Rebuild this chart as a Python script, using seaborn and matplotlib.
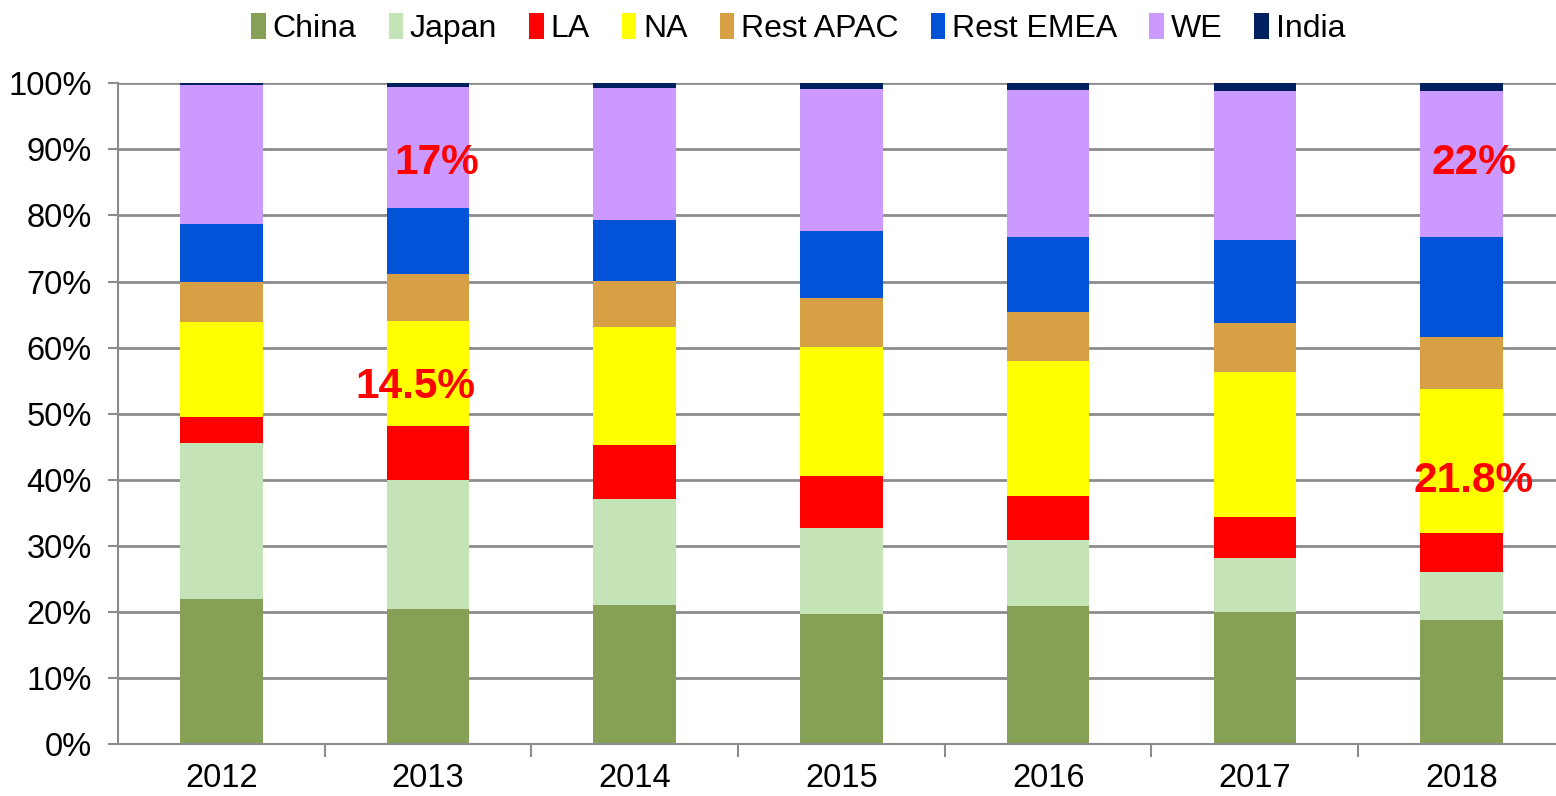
import numpy as np
import pandas as pd
import matplotlib
matplotlib.use("Agg")
import matplotlib.pyplot as plt
import seaborn as sns
from matplotlib.patches import Patch
from matplotlib.ticker import MultipleLocator, FixedLocator

years = ["2012", "2013", "2014", "2015", "2016", "2017", "2018"]
regions = ["China", "Japan", "LA", "NA", "Rest APAC", "Rest EMEA", "WE", "India"]
china     = [21.9, 20.4, 21.0, 19.7, 20.9, 20.0, 18.8]
japan     = [23.6, 19.5, 16.1, 13.0, 10.0, 8.2, 7.2]
la        = [4.0, 8.3, 8.2, 7.9, 6.7, 6.2, 5.9]
na        = [14.3, 15.8, 17.8, 19.5, 20.4, 21.9, 21.8]
rest_apac = [6.2, 7.2, 7.0, 7.4, 7.4, 7.4, 7.9]
rest_emea = [8.7, 10.0, 9.2, 10.1, 11.3, 12.6, 15.1]
we        = [21.0, 18.3, 20.0, 21.5, 22.3, 22.6, 22.2]
india     = [0.3, 0.5, 0.7, 0.9, 1.0, 1.1, 1.1]
colors = ["#86A055", "#C4E3B6", "#FF0000", "#FFFF00", "#D8A044", "#0353D8", "#CC99FF", "#002060"]

ann_text = ["17%", "14.5%", "22%", "21.8%"]
ann_x = [1.04, 0.94, 6.06, 6.06]
ann_y = [88.0, 54.0, 88.0, 39.8]

sns.set_theme(style="white")
plt.rcParams['font.family'] = ['Liberation Sans', 'DejaVu Sans']
plt.rcParams['text.color'] = 'black'
plt.rcParams['xtick.color'] = 'black'
plt.rcParams['ytick.color'] = 'black'

fig = plt.figure(figsize=(15.56, 7.96), dpi=100)
ax = fig.add_axes([118/1556, 52/796, 1 - 118/1556, (744 - 83.3)/796])

series = [china, japan, la, na, rest_apac, rest_emea, we, india]
cum = np.cumsum(np.array(series), axis=0)
for i in range(len(regions) - 1, -1, -1):
    df = pd.DataFrame({"year": years, "val": cum[i]})
    sns.barplot(data=df, x="year", y="val", color=colors[i], width=0.4,
                saturation=1, ax=ax, linewidth=0, order=years)

ax.set_ylim(0, 100)
ax.set_xlim(-0.5, 6.457)
ax.set_xlabel("")
ax.set_ylabel("")
ax.yaxis.set_major_locator(MultipleLocator(10))
ax.set_yticklabels([f"{int(v)}%" for v in ax.get_yticks()])
ax.set_axisbelow(True)
ax.yaxis.grid(True, color="#8c8c8c", linewidth=2)
ax.xaxis.grid(False)
for s in ["top", "right"]:
    ax.spines[s].set_visible(False)
for s in ["left", "bottom"]:
    ax.spines[s].set_color("#8c8c8c")
    ax.spines[s].set_linewidth(1.5)
ax.tick_params(axis="y", which="major", left=True, length=7, width=1.5, color="#8c8c8c",
               labelcolor="black", labelsize=23.5, pad=12)
ax.tick_params(axis="x", which="major", bottom=False, labelsize=23.5, labelcolor="black", pad=8)
ax.xaxis.set_minor_locator(FixedLocator(np.arange(0.5, 6.5, 1.0)))
ax.tick_params(axis="x", which="minor", bottom=True, length=9, width=1.5, color="#8c8c8c")

for t, x, y in zip(ann_text, ann_x, ann_y):
    ax.text(x, y, t, color="#FF0000", fontsize=30.5, fontweight="bold",
            ha="center", va="center")

handles = [Patch(facecolor=c, edgecolor="none", label=r) for c, r in zip(colors, regions)]
fig.legend(handles=handles, loc="upper center", bbox_to_anchor=(0.513, 1.02), ncol=8,
           frameon=False, fontsize=23, handlelength=0.45, handleheight=0.9,
           handletextpad=0.22, columnspacing=1.0, labelcolor="black")

fig.savefig("out.png", dpi=100)
